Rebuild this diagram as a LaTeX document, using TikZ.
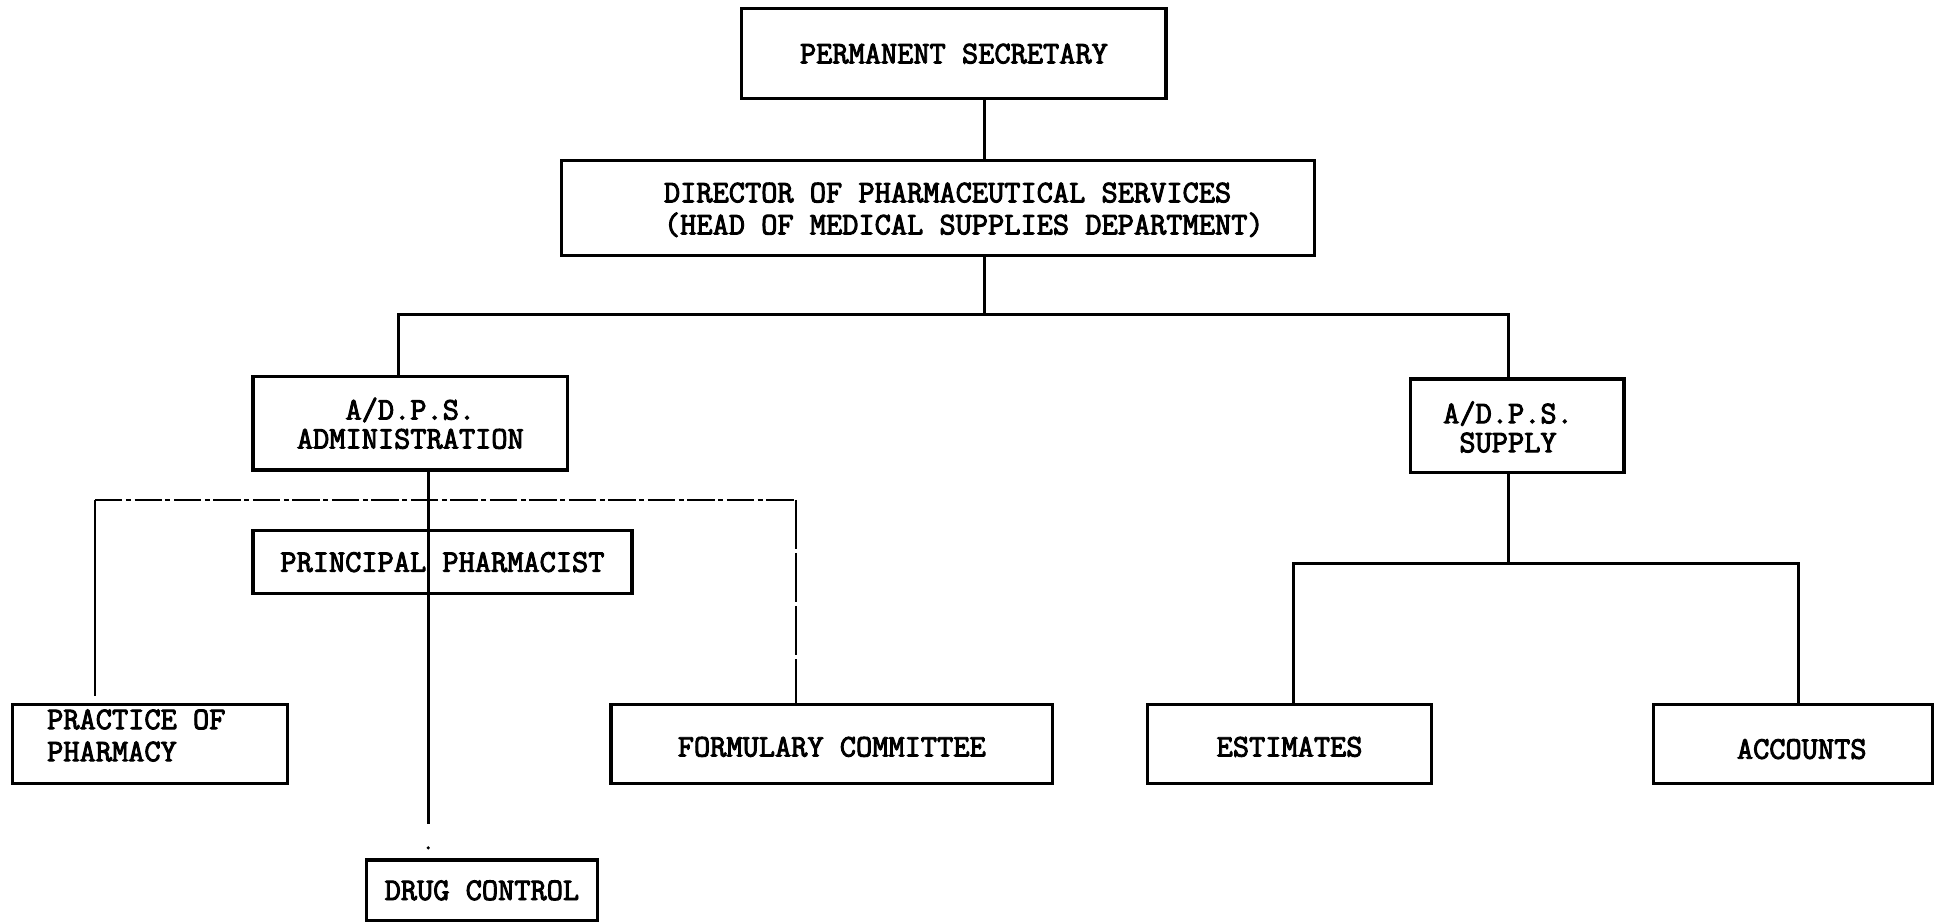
\documentclass[tikz,border=0pt]{standalone}
\usepackage{fontspec}
\newfontfamily\typw{Latin Modern Mono}[FakeBold=3]
\newcommand\tw{\typw\fontsize{25.5}{26}\selectfont}
\newcommand\twt{\typw\fontsize{25.5}{23.5}\selectfont}
\begin{document}
\begin{tikzpicture}[x=1pt,y=-1pt,
  box/.style={draw, line width=2.8pt, inner sep=0pt, font=\tw, align=center},
  lowtext/.style={text height=20pt, text depth=0pt},
  txt/.style={inner sep=0pt, font=\tw},
  link/.style={line width=2.4pt},
  dashlink/.style={line width=1.8pt, dash pattern=on 22pt off 3pt on 4pt off 3pt},
  brokenlink/.style={line width=1.8pt, dash pattern=on 40pt off 3pt}]
\useasboundingbox[fill=white] (0,0) rectangle (1568,748);

% boxes
\node[box, minimum width=344, minimum height=73] (ps) at (773,43.5) {PERMANENT SECRETARY};
\node[box, minimum width=610, minimum height=77] (dir) at (760,168.5) {};
\node[txt, align=left] (dirtxt) at (781,170) {DIRECTOR OF PHARMACEUTICAL SERVICES\\(HEAD OF MEDICAL SUPPLIES DEPARTMENT)};
\node[box, font=\twt, minimum width=255, minimum height=76] (adm) at (332.5,343) {A/D.P.S.\\ADMINISTRATION};
\node[box, font=\twt, minimum width=173, minimum height=76] (sup) at (1229.5,345) {};
\node[txt, font=\twt, align=center] (suptxt) at (1222,346) {A/D.P.S.\\SUPPLY};
\node[box, minimum width=307, minimum height=51] (pp) at (358.5,455.5) {PRINCIPAL PHARMACIST};
\node[box, minimum width=223, minimum height=64] (prac) at (121.5,603) {};
\node[txt, align=left, anchor=west] (practxt) at (38,596) {PRACTICE OF\\PHARMACY};
\node[box, lowtext, minimum width=358, minimum height=64] (form) at (674,603) {FORMULARY COMMITTEE};
\node[box, minimum width=187, minimum height=49] (drug) at (390.5,721.5) {DRUG CONTROL};
\node[box, lowtext, minimum width=230, minimum height=64] (est) at (1045,603) {ESTIMATES};
\node[box, minimum width=226, minimum height=64] (acc) at (1453,603) {};
\node[txt] (acctxt) at (1460,607) {ACCOUNTS};

% junction coordinates
\coordinate (j1) at (798,255);
\coordinate (aL) at (323,255);
\coordinate (aR) at (1222,255);
\coordinate (av) at (347,668);
\coordinate (avdot) at (347,687);
\coordinate (s1) at (1222,457);
\coordinate (sL) at (1048,457);
\coordinate (sR) at (1457,457);
\coordinate (dl) at (77,405);
\coordinate (dr) at (645,405);

% connectors
\draw[link] (ps.south -| j1) -- (dir.north -| j1);
\draw[link] (dir.south -| j1) -- (j1);
\draw[link] (adm.north -| aL) -- (aL) -- (aR) -- (sup.north -| aR);
\draw[link] (adm.south -| av) -- (av);
\fill (avdot) circle (1.4pt);
\draw[link] (sup.south -| s1) -- (s1);
\draw[link] (est.north -| sL) -- (sL) -- (sR) -- (acc.north -| sR);
\draw[dashlink] (dl) -- (dr);
\draw[line width=1.8pt, shorten >=6pt] (dl) -- (prac.north -| dl);
\draw[brokenlink] (dr) -- (form.north -| dr);
\end{tikzpicture}
\end{document}
